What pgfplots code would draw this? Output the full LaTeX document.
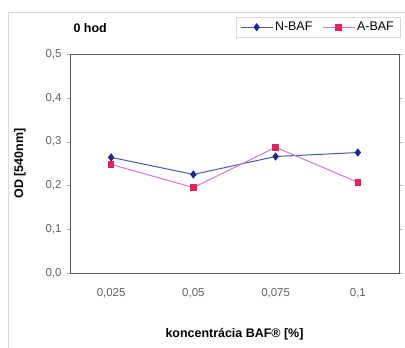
\documentclass[border=0pt]{standalone}
\usepackage{pgfplots}
\pgfplotsset{compat=1.18}
\usepackage{fontspec}
\setmainfont{Liberation Sans}
\definecolor{nline}{HTML}{4A55B0}
\definecolor{nmark}{HTML}{1E2A85}
\definecolor{aline}{HTML}{D27AC8}
\definecolor{amark}{HTML}{E8205A}
\definecolor{ticktxt}{HTML}{606060}
\begin{document}
\begin{tikzpicture}
\useasboundingbox (0,0) rectangle (405bp,348bp);
\draw[gray!30, line width=0.8pt] (8bp,0) -- (8bp,336bp) -- (405bp,336bp);
\begin{axis}[
  at={(70bp,75bp)}, anchor=south west,
  scale only axis, width=329bp, height=219bp,
  xmin=0.5, xmax=4.5, ymin=0, ymax=0.5,
  xtick={1,2,3,4},
  xticklabels={{0,025},{0,05},{0,075},{0,1}},
  x tick style={draw=none},
  ytick={0,0.1,0.2,0.3,0.4,0.5},
  yticklabel style={xshift=-2bp, /pgf/number format/.cd, use comma, fixed, fixed zerofill, precision=1},
  /pgf/number format/assume math mode=true,
  tick label style={font=\fontsize{11.5}{13}\selectfont, text=ticktxt},
  xticklabel style={yshift=-9bp},
  y tick style={draw=gray!60},
  tick align=outside, major tick length=3bp,
  axis line style={draw=gray!70!black, line width=0.8pt},
  xlabel={\textbf{koncentrácia BAF® [\%]}},
  xlabel style={at={(0.5,-0.279)}, anchor=center, font=\fontsize{12.5}{14}\selectfont},
  ylabel={\textbf{OD [540nm]}},
  ylabel style={at={(-0.152,0.5)}, anchor=center, rotate=0, font=\fontsize{12.5}{14}\selectfont},
  legend style={at={(1.003,1.169)}, anchor=north east, legend columns=2,
    draw=gray!30, font=\fontsize{12.5}{14}\selectfont,
    /tikz/every even column/.append style={column sep=8bp},
    inner ysep=3bp, inner xsep=4bp},
  legend image code/.code={
    \draw[mark repeat=2,mark phase=2] plot coordinates {(0cm,0cm) (0.56cm,0cm) (1.12cm,0cm)};},
  clip=false,
]
\addplot[color=nline, line width=1pt, mark=diamond*, mark size=3.4pt,
  mark options={fill=nmark, draw=nmark}] coordinates {(1,0.264) (2,0.225) (3,0.266) (4,0.275)};
\addlegendentry{N-BAF}
\addplot[color=aline, line width=1pt, mark=square*, mark size=2.8pt,
  mark options={fill=amark, draw=amark}] coordinates {(1,0.248) (2,0.195) (3,0.287) (4,0.207)};
\addlegendentry{A-BAF}
\node[anchor=west, font=\fontsize{12.5}{14}\selectfont\bfseries] at (rel axis cs:0.0,1.119) {0 hod};
\end{axis}
\end{tikzpicture}
\end{document}
